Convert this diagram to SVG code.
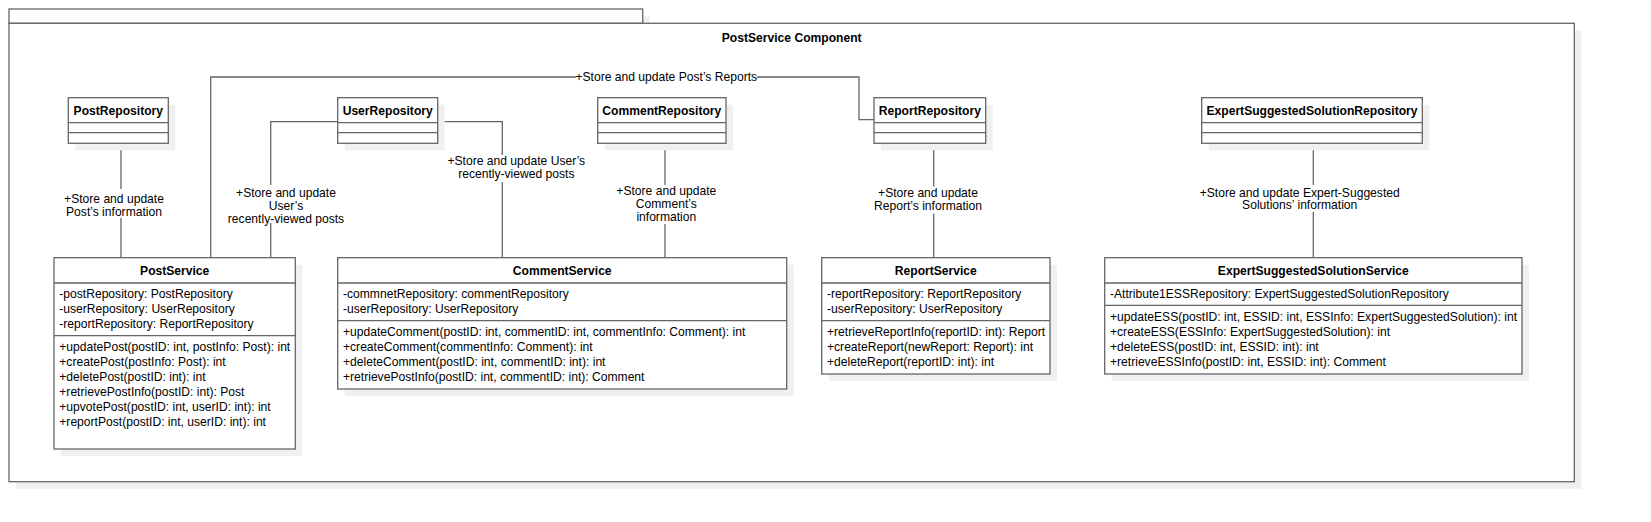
<svg xmlns="http://www.w3.org/2000/svg" width="1651" height="522" viewBox="0 0 1651 522">
<style>
.box{fill:#fff;stroke:#666;stroke-width:1.3}
.sh{fill:#f0f0f0;stroke:none}
.ln{fill:none;stroke:#666;stroke-width:1.3}
.edge{fill:none;stroke:#666;stroke-width:1.3}
.lbg{fill:#fff;stroke:none}
text{font-family:"Liberation Sans",Arial,sans-serif;font-size:12.1px;fill:#000}
.b{font-weight:bold}
.c{text-anchor:middle}
</style>
<rect width="1651" height="522" fill="#fff"/>
<g id="frame">
<rect class="sh" x="16" y="16" width="633.7" height="14.3"/>
<rect class="box" x="9" y="9" width="633.7" height="14.3"/>
<rect class="sh" x="16" y="30.3" width="1565.3" height="458.4"/>
<rect class="box" x="9" y="23.3" width="1565.3" height="458.4"/>
<text class="b c" x="791.7" y="42">PostService Component</text>
</g>
<g id="connectors">
<path class="edge" d="M121 143.3V257.7"/>
<rect class="lbg" x="63" y="189" width="102" height="29"/>
<text class="c" x="114" y="203.3">+Store and update</text>
<text class="c" x="114" y="216">Post’s information</text>
<path class="edge" d="M210.7 257.7V77H859V119.7H874"/>
<rect class="lbg" x="576" y="70" width="181" height="14"/>
<text class="c" x="666.3" y="81.3">+Store and update Post’s Reports</text>
<path class="edge" d="M337.7 121.7H270.7V257.7"/>
<rect class="lbg" x="230" y="185" width="113" height="38"/>
<text class="c" x="286" y="196.6">+Store and update</text>
<text class="c" x="286" y="209.6">User’s</text>
<text class="c" x="286" y="222.6">recently-viewed posts</text>
<path class="edge" d="M437.7 121.7H502.3V257.7"/>
<rect class="lbg" x="430" y="155" width="173" height="27"/>
<text class="c" x="516.3" y="165.3">+Store and update User’s</text>
<text class="c" x="516.3" y="178">recently-viewed posts</text>
<path class="edge" d="M665 143.3V257.7"/>
<rect class="lbg" x="616" y="185" width="101" height="39"/>
<text class="c" x="666.3" y="195.3">+Store and update</text>
<text class="c" x="666.3" y="208">Comment’s</text>
<text class="c" x="666.3" y="221">information</text>
<path class="edge" d="M933.7 143.3V257.7"/>
<rect class="lbg" x="877" y="186.5" width="102" height="27"/>
<text class="c" x="928" y="197">+Store and update</text>
<text class="c" x="928" y="210">Report’s information</text>
<path class="edge" d="M1313.3 143.3V257.7"/>
<rect class="lbg" x="1199" y="185" width="201" height="27"/>
<text class="c" x="1299.7" y="196.6">+Store and update Expert-Suggested</text>
<text class="c" x="1299.7" y="209">Solutions’ information</text>
</g>
<g id="PostRepository">
<rect class="sh" x="75.3" y="104.7" width="100" height="45.6"/>
<rect class="box" x="68.3" y="97.7" width="100" height="45.6"/>
<path class="ln" d="M68.3 122.7H168.3M68.3 132.7H168.3"/>
<text class="b c" x="118.3" y="115.3">PostRepository</text>
</g>
<g id="UserRepository">
<rect class="sh" x="344.7" y="104.7" width="100" height="45.6"/>
<rect class="box" x="337.7" y="97.7" width="100" height="45.6"/>
<path class="ln" d="M337.7 122.7H437.7M337.7 132.7H437.7"/>
<text class="b c" x="387.7" y="115.3">UserRepository</text>
</g>
<g id="CommentRepository">
<rect class="sh" x="604.7" y="104.7" width="128.3" height="45.6"/>
<rect class="box" x="597.7" y="97.7" width="128.3" height="45.6"/>
<path class="ln" d="M597.7 122.7H726M597.7 132.7H726"/>
<text class="b c" x="661.8" y="115.3">CommentRepository</text>
</g>
<g id="ReportRepository">
<rect class="sh" x="881" y="104.7" width="111.7" height="45.6"/>
<rect class="box" x="874" y="97.7" width="111.7" height="45.6"/>
<path class="ln" d="M874 122.7H985.7M874 132.7H985.7"/>
<text class="b c" x="929.8" y="115.3">ReportRepository</text>
</g>
<g id="ExpertSuggestedSolutionRepository">
<rect class="sh" x="1208.7" y="104.7" width="220.6" height="45.6"/>
<rect class="box" x="1201.7" y="97.7" width="220.6" height="45.6"/>
<path class="ln" d="M1201.7 122.7H1422.3M1201.7 132.7H1422.3"/>
<text class="b c" x="1312" y="115.3">ExpertSuggestedSolutionRepository</text>
</g>
<g id="PostService">
<rect class="sh" x="61" y="264.7" width="241.3" height="191.3"/>
<rect class="box" x="54" y="257.7" width="241.3" height="191.3"/>
<path class="ln" d="M54 283H295.3M54 335.7H295.3"/>
<text class="b c" x="174.7" y="275">PostService</text>
<text x="59.3" y="298">-postRepository: PostRepository</text>
<text x="59.3" y="313">-userRepository: UserRepository</text>
<text x="59.3" y="328">-reportRepository: ReportRepository</text>
<text x="59.3" y="351">+updatePost(postID: int, postInfo: Post): int</text>
<text x="59.3" y="366">+createPost(postInfo: Post): int</text>
<text x="59.3" y="381">+deletePost(postID: int): int</text>
<text x="59.3" y="396">+retrievePostInfo(postID: int): Post</text>
<text x="59.3" y="411">+upvotePost(postID: int, userID: int): int</text>
<text x="59.3" y="426">+reportPost(postID: int, userID: int): int</text>
</g>
<g id="CommentService">
<rect class="sh" x="344.7" y="264.7" width="449" height="131.3"/>
<rect class="box" x="337.7" y="257.7" width="449" height="131.3"/>
<path class="ln" d="M337.7 283H786.7M337.7 320.7H786.7"/>
<text class="b c" x="562.2" y="275">CommentService</text>
<text x="343" y="298">-commnetRepository: commentRepository</text>
<text x="343" y="313">-userRepository: UserRepository</text>
<text x="343" y="336">+updateComment(postID: int, commentID: int, commentInfo: Comment): int</text>
<text x="343" y="351">+createComment(commentInfo: Comment): int</text>
<text x="343" y="366">+deleteComment(postID: int, commentID: int): int</text>
<text x="343" y="381">+retrievePostInfo(postID: int, commentID: int): Comment</text>
</g>
<g id="ReportService">
<rect class="sh" x="828.7" y="264.7" width="228.3" height="116.3"/>
<rect class="box" x="821.7" y="257.7" width="228.3" height="116.3"/>
<path class="ln" d="M821.7 283H1050M821.7 320.7H1050"/>
<text class="b c" x="935.8" y="275">ReportService</text>
<text x="827" y="298">-reportRepository: ReportRepository</text>
<text x="827" y="313">-userRepository: UserRepository</text>
<text x="827" y="336">+retrieveReportInfo(reportID: int): Report</text>
<text x="827" y="351">+createReport(newReport: Report): int</text>
<text x="827" y="366">+deleteReport(reportID: int): int</text>
</g>
<g id="ExpertSuggestedSolutionService">
<rect class="sh" x="1111.7" y="264.7" width="417.3" height="116.3"/>
<rect class="box" x="1104.7" y="257.7" width="417.3" height="116.3"/>
<path class="ln" d="M1104.7 283H1522M1104.7 305.3H1522"/>
<text class="b c" x="1313.3" y="275">ExpertSuggestedSolutionService</text>
<text x="1110" y="298">-Attribute1ESSRepository: ExpertSuggestedSolutionRepository</text>
<text x="1110" y="321">+updateESS(postID: int, ESSID: int, ESSInfo: ExpertSuggestedSolution): int</text>
<text x="1110" y="336">+createESS(ESSInfo: ExpertSuggestedSolution): int</text>
<text x="1110" y="351">+deleteESS(postID: int, ESSID: int): int</text>
<text x="1110" y="366">+retrieveESSInfo(postID: int, ESSID: int): Comment</text>
</g>
</svg>
